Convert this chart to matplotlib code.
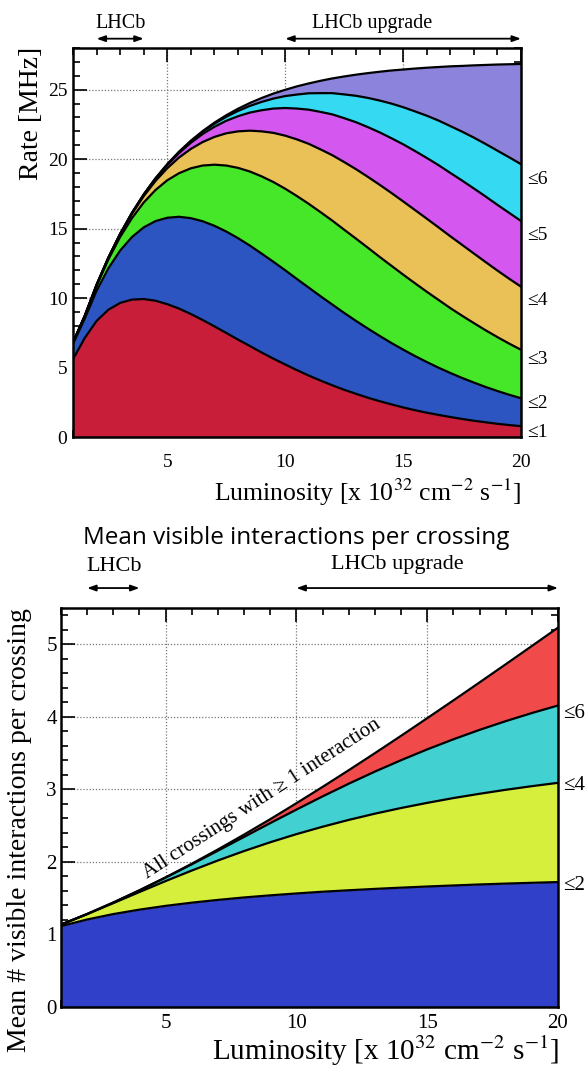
"""
LHCb rate and mean visible interactions vs luminosity
"""

#%% Imports
import numpy as np
import matplotlib
matplotlib.use('Agg')
import matplotlib.pyplot as plt
from matplotlib.ticker import MultipleLocator

plt.rcParams['font.family'] = ['Liberation Serif', 'DejaVu Serif']
plt.rcParams['mathtext.fontset'] = 'stix'

#%% Data - rate per crossing class [MHz]
lumi_top = [1, 1.5, 2, 2.5, 3, 3.5, 4, 4.5, 5, 5.5, 6, 6.5, 7, 7.5, 8, 8.5, 9, 9.5, 10, 10.5,
            11, 11.5, 12, 12.5, 13, 13.5, 14, 14.5, 15, 15.5, 16, 16.5, 17, 17.5, 18, 18.5, 19, 19.5, 20]
rate_le1 = [5.6, 7.13, 8.35, 9.16, 9.65, 9.89, 9.93, 9.81, 9.56, 9.24, 8.85, 8.42, 7.96, 7.49, 7.01, 6.55,
            6.08, 5.64, 5.22, 4.81, 4.42, 4.06, 3.72, 3.40, 3.11, 2.83, 2.58, 2.35, 2.13, 1.93, 1.75, 1.59,
            1.44, 1.30, 1.17, 1.06, 0.95, 0.86, 0.78]
rate_le2 = [6.7, 8.52, 10.52, 12.14, 13.42, 14.39, 15.09, 15.54, 15.78, 15.85, 15.75, 15.53, 15.20, 14.79,
            14.31, 13.78, 13.20, 12.61, 12.00, 11.37, 10.75, 10.13, 9.53, 8.93, 8.36, 7.81, 7.28, 6.77,
            6.29, 5.83, 5.40, 4.99, 4.61, 4.25, 3.92, 3.60, 3.31, 3.04, 2.79]
rate_le3 = [6.8, 8.70, 10.89, 12.78, 14.40, 15.75, 16.88, 17.78, 18.48, 18.99, 19.34, 19.54, 19.60, 19.54,
            19.37, 19.11, 18.76, 18.35, 17.87, 17.34, 16.78, 16.18, 15.57, 14.92, 14.28, 13.63, 12.97,
            12.33, 11.69, 11.07, 10.46, 9.87, 9.28, 8.73, 8.20, 7.68, 7.19, 6.72, 6.28]
rate_le4 = [6.8, 8.72, 10.94, 12.89, 14.59, 16.06, 17.34, 18.43, 19.35, 20.12, 20.74, 21.23, 21.60, 21.86,
            22.00, 22.05, 22.00, 21.89, 21.69, 21.42, 21.10, 20.70, 20.28, 19.79, 19.28, 18.73, 18.16,
            17.57, 16.96, 16.34, 15.72, 15.09, 14.45, 13.83, 13.21, 12.59, 11.98, 11.39, 10.82]
rate_le5 = [6.8, 8.72, 10.95, 12.90, 14.62, 16.12, 17.44, 18.59, 19.58, 20.44, 21.18, 21.81, 22.33, 22.76,
            23.09, 23.35, 23.52, 23.64, 23.68, 23.64, 23.56, 23.40, 23.22, 22.95, 22.66, 22.31, 21.93,
            21.51, 21.07, 20.59, 20.09, 19.57, 19.01, 18.46, 17.89, 17.31, 16.71, 16.13, 15.55]
rate_le6 = [6.8, 8.72, 10.95, 12.90, 14.62, 16.13, 17.46, 18.62, 19.63, 20.52, 21.29, 21.97, 22.55, 23.05,
            23.47, 23.83, 24.12, 24.36, 24.54, 24.65, 24.74, 24.75, 24.75, 24.66, 24.56, 24.41, 24.22,
            24.00, 23.74, 23.44, 23.13, 22.78, 22.38, 21.98, 21.55, 21.09, 20.61, 20.13, 19.64]
rate_all = [6.8, 8.72, 10.95, 12.91, 14.62, 16.13, 17.46, 18.62, 19.64, 20.54, 21.33, 22.02, 22.63, 23.16,
            23.63, 24.04, 24.40, 24.72, 24.99, 25.24, 25.45, 25.64, 25.81, 25.95, 26.08, 26.19, 26.29,
            26.38, 26.45, 26.52, 26.58, 26.63, 26.68, 26.71, 26.75, 26.78, 26.81, 26.83, 26.85]

top_labels = ['≤1', '≤2', '≤3', '≤4', '≤5', '≤6']
top_label_y = [0.3, 2.4, 5.6, 9.8, 14.5, 18.5]
top_colors = ['#c81e3a', '#2c55c2', '#46e628', '#e9c157', '#d457ef', '#35d9f2', '#8c84dc']

#%% Data - mean visible interactions per crossing
lumi_bot = [1, 2, 3, 4, 5, 6, 7, 8, 9, 10, 11, 12, 13, 14, 15, 16, 17, 18, 19, 20]
mean_le2 = [1.115, 1.206, 1.281, 1.342, 1.394, 1.438, 1.476, 1.510, 1.539, 1.565, 1.589, 1.609, 1.628, 1.645, 1.661, 1.675, 1.689, 1.701, 1.712, 1.722]
mean_le4 = [1.136, 1.281, 1.432, 1.585, 1.736, 1.881, 2.020, 2.150, 2.271, 2.383, 2.485, 2.579, 2.665, 2.743, 2.814, 2.880, 2.939, 2.994, 3.044, 3.090]
mean_le6 = [1.136, 1.282, 1.440, 1.608, 1.784, 1.967, 2.155, 2.345, 2.535, 2.721, 2.903, 3.078, 3.245, 3.402, 3.551, 3.690, 3.820, 3.940, 4.052, 4.156]
mean_all = [1.136, 1.282, 1.440, 1.609, 1.787, 1.975, 2.172, 2.377, 2.589, 2.809, 3.034, 3.264, 3.499, 3.738, 3.981, 4.226, 4.474, 4.724, 4.976, 5.229]

bot_labels = ['≤2', '≤4', '≤6']
bot_label_y = [1.67, 3.06, 4.05]
bot_colors = ['#3040c8', '#d6ef3c', '#42d0d0', '#f04a4a']


#%% Helpers
def style_axes(ax, ymajor, yminor, size, pad_x, pad_y):
    ax.xaxis.set_major_locator(MultipleLocator(5))
    ax.xaxis.set_minor_locator(MultipleLocator(1))
    ax.yaxis.set_major_locator(MultipleLocator(ymajor))
    ax.yaxis.set_minor_locator(MultipleLocator(yminor))
    ax.tick_params(which='both', direction='in', top=True, right=True, width=1.2)
    ax.tick_params(which='major', length=10, labelsize=size)
    ax.tick_params(which='minor', length=5)
    ax.tick_params(axis='x', which='major', pad=pad_x)
    ax.tick_params(axis='y', which='major', pad=pad_y)
    for sp in ax.spines.values():
        sp.set_linewidth(1.8)
        sp.set_zorder(5)
    ax.grid(True, which='major', linestyle=(0, (1, 1.5)), color='#777777', linewidth=0.9)
    ax.set_axisbelow(True)


def range_arrow(ax, x0, x1, y, text, tx, ty, size):
    ax.annotate('', xy=(x0, y), xytext=(x1, y), xycoords=ax.get_xaxis_transform(),
                arrowprops=dict(arrowstyle='<|-|>,head_length=0.5,head_width=0.18',
                                color='black', lw=1.3, shrinkA=0, shrinkB=0),
                annotation_clip=False)
    ax.text(tx, ty, text, transform=ax.get_xaxis_transform(), ha='center', va='center',
            fontsize=size)


#%% Figure
fig = plt.figure(figsize=(5.85, 10.67), dpi=100)

# ---- top: rate
ax1 = fig.add_axes([73 / 585, 1 - 437 / 1067, 448 / 585, 389 / 1067])
x = np.array(lumi_top)
layers = [np.zeros(len(x)), rate_le1, rate_le2, rate_le3, rate_le4, rate_le5, rate_le6, rate_all]
for i in range(len(layers) - 1):
    ax1.fill_between(x, layers[i], layers[i + 1], color=top_colors[i], lw=0, zorder=2)
for lay in layers[1:]:
    ax1.plot(x, lay, color='black', lw=1.6, zorder=3)
ax1.set_xlim(1, 20)
ax1.set_ylim(0, 28)
style_axes(ax1, 5, 1, 14, 12, 4)
for lab, yy in zip(top_labels, top_label_y):
    ax1.text(20.25, yy, lab, ha='left', va='center', fontsize=14, clip_on=False)
range_arrow(ax1, 2, 4, 1.024, 'LHCb', 3.0, 1.064, 14.5)
range_arrow(ax1, 10, 20, 1.024, 'LHCb upgrade', 13.7, 1.064, 14.5)
fig.text(32 / 585, 1 - 47 / 1067, 'Rate [MHz]', rotation=90, ha='center', va='top', fontsize=20)
fig.text(521 / 585, 1 - 501 / 1067, r'Luminosity [x 10$^{32}$ cm$^{-2}$ s$^{-1}$]',
         ha='right', va='baseline', fontsize=18.5)

# ---- bottom: mean interactions
ax2 = fig.add_axes([61 / 585, 1 - 1007 / 1067, 497 / 585, 399 / 1067])
xb = np.array(lumi_bot)
layers_b = [np.zeros(len(xb)), mean_le2, mean_le4, mean_le6, mean_all]
for i in range(len(layers_b) - 1):
    ax2.fill_between(xb, layers_b[i], layers_b[i + 1], color=bot_colors[i], lw=0, zorder=2)
for lay in layers_b[1:]:
    ax2.plot(xb, lay, color='black', lw=1.6, zorder=3)
ax2.set_xlim(1, 20)
ax2.set_ylim(0, 5.5)
style_axes(ax2, 1, 0.2, 15, 5, 3)
for lab, yy in zip(bot_labels, bot_label_y):
    ax2.text(20.2, yy, lab, ha='left', va='center', fontsize=15, clip_on=False)
ax2.text(8.7, 2.87, 'All crossings with ≥ 1 interaction', rotation=33, ha='center', va='center',
         fontsize=15, rotation_mode='anchor', zorder=4)
range_arrow(ax2, 2, 4, 1.05, 'LHCb', 3.05, 1.105, 16)
range_arrow(ax2, 10, 20, 1.05, 'LHCb upgrade', 13.85, 1.108, 16)
fig.text(296 / 585, 1 - 538 / 1067, 'Mean visible interactions per crossing',
         ha='center', va='center', fontsize=17.5, family=['Open Sans', 'DejaVu Sans'])
fig.text(20 / 585, 1 - 608 / 1067, 'Mean # visible interactions per crossing', rotation=90,
         ha='center', va='top', fontsize=20)
fig.text(559 / 585, 1 - 1060 / 1067, r'Luminosity [x 10$^{32}$ cm$^{-2}$ s$^{-1}$]',
         ha='right', va='baseline', fontsize=21)

fig.savefig('out.png', dpi=100)
